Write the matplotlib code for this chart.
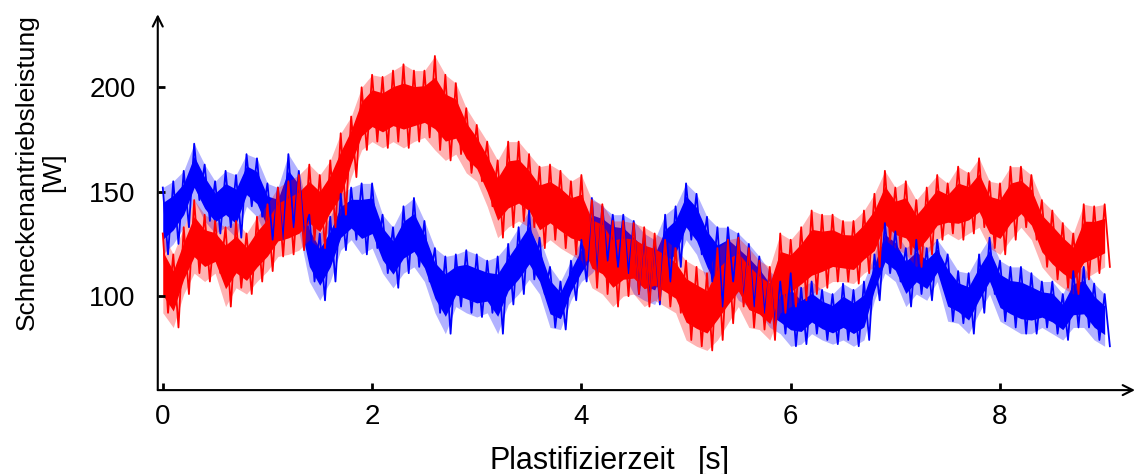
import numpy as np
import matplotlib
matplotlib.use("Agg")
import matplotlib.pyplot as plt

plt.rcParams['font.family'] = ['Liberation Sans', 'DejaVu Sans']

# sampling grid of the envelope readings, seconds
time_s = np.round(np.arange(0, 9.01, 0.1), 2)

# blue trace: upper / lower peak envelope per 0.1 s  [W]
blue_hi = [152, 155, 160, 173, 163, 155, 160, 158, 168, 166,
           154, 152, 168, 160, 139, 130, 138, 149, 152, 154,
           154, 139, 133, 143, 147, 136, 123, 119, 120, 122,
           120, 117, 119, 125, 133, 141, 128, 114, 107, 117,
           127, 147, 143, 139, 139, 136, 130, 127, 139, 143,
           154, 149, 138, 133, 133, 130, 125, 119, 112, 107,
           111, 104, 107, 103, 101, 106, 103, 107, 120, 135,
           131, 123, 127, 123, 127, 120, 112, 111, 120, 128,
           117, 114, 114, 111, 107, 107, 101, 112, 114, 106,
           101]
blue_lo = [120, 125, 133, 146, 136, 130, 133, 128, 143, 138,
           127, 127, 133, 131, 107, 98, 107, 122, 127, 120,
           123, 111, 104, 111, 114, 107, 92, 82, 95, 92,
           90, 92, 82, 96, 101, 108, 101, 85, 84, 98,
           107, 111, 117, 114, 111, 101, 98, 96, 107, 114,
           127, 120, 107, 95, 107, 98, 95, 92, 85, 82,
           76, 77, 82, 79, 77, 79, 76, 79, 98, 111,
           107, 95, 101, 98, 107, 88, 87, 82, 92, 101,
           88, 85, 82, 82, 85, 82, 79, 85, 85, 79,
           76]

# red trace: upper / lower peak envelope per 0.1 s  [W]
red_hi = [130, 120, 133, 146, 139, 136, 133, 136, 130, 138,
          144, 152, 155, 158, 163, 158, 165, 178, 186, 200,
          206, 205, 208, 211, 208, 208, 215, 206, 202, 190,
          182, 174, 165, 174, 174, 168, 162, 163, 160, 155,
          158, 146, 144, 136, 136, 135, 133, 130, 127, 123,
          117, 114, 111, 123, 127, 128, 123, 117, 114, 130,
          127, 133, 141, 139, 139, 136, 136, 141, 149, 160,
          152, 155, 146, 152, 158, 154, 162, 159, 166, 155,
          154, 162, 162, 158, 146, 141, 135, 130, 144, 143,
          144]
red_lo = [92, 85, 101, 111, 107, 111, 95, 104, 101, 107,
          112, 119, 120, 122, 127, 123, 133, 139, 157, 170,
          174, 171, 174, 171, 174, 176, 170, 165, 168, 159,
          155, 143, 128, 133, 136, 133, 123, 127, 123, 120,
          117, 104, 101, 95, 100, 101, 95, 98, 95, 92,
          79, 76, 74, 79, 87, 95, 85, 84, 79, 92,
          95, 98, 101, 104, 107, 107, 106, 111, 114, 127,
          123, 120, 114, 120, 127, 130, 127, 130, 133, 123,
          120, 127, 133, 127, 114, 108, 104, 101, 108, 111,
          114]


def zigzag(t, hi, lo):
    # alternate between the upper and lower readings to draw the noisy trace
    step = np.diff(t).mean() / 2
    xs = np.empty(2 * len(t))
    ys = np.empty(2 * len(t))
    xs[0::2] = t
    xs[1::2] = t + step
    ys[0::2] = hi
    ys[1::2] = lo
    return xs, ys


fig = plt.figure(figsize=(11.35, 4.74), dpi=100)
ax = fig.add_axes([0.139, 0.177, 0.861, 0.793])

for hi, lo, color in [(blue_hi, blue_lo, '#0000ff'), (red_hi, red_lo, '#ff0000')]:
    hi = np.asarray(hi, float)
    lo = np.asarray(lo, float)
    mid = (hi + lo) / 2
    half = (hi - lo) / 2
    # dense core of the trace, spikes reach out to the envelope
    ax.fill_between(time_s, mid - 0.55 * half, mid + 0.55 * half, color=color, lw=0)
    ax.fill_between(time_s, lo, hi, color=color, alpha=0.3, lw=0)
    xs, ys = zigzag(time_s, hi, lo)
    ax.plot(xs, ys, color=color, lw=1.3)

ax.set_xlim(-0.048, 9.29)
ax.set_ylim(55, 235)

for side in ['top', 'right', 'left', 'bottom']:
    ax.spines[side].set_visible(False)

# axes drawn as arrows
ax.annotate('', xy=(1, 0), xytext=(0, 0), xycoords='axes fraction',
            arrowprops=dict(arrowstyle='->', lw=1.5, color='black', mutation_scale=18,
                            shrinkA=0, shrinkB=0))
ax.annotate('', xy=(0, 1), xytext=(0, 0), xycoords='axes fraction',
            arrowprops=dict(arrowstyle='->', lw=1.5, color='black', mutation_scale=18,
                            shrinkA=0, shrinkB=0))

ax.set_xticks([0, 2, 4, 6, 8])
ax.set_yticks([100, 150, 200])
ax.tick_params(direction='in', length=5, width=2, labelsize=20)
ax.tick_params(axis='x', pad=10)
ax.tick_params(axis='y', pad=16)

fig.text(582 / 1135, 1 - 461 / 474, 'Plastifizierzeit', fontsize=22,
         ha='center', va='center')
fig.text(714 / 1135, 1 - 461 / 474, '[s]', fontsize=22,
         ha='center', va='center')
fig.text(40 / 1135, 1 - 172 / 474, 'Schneckenantriebsleistung\n[W]', fontsize=19,
         rotation=90, ha='center', va='center', multialignment='center',
         linespacing=1.1)

fig.savefig('out.png', dpi=100)
